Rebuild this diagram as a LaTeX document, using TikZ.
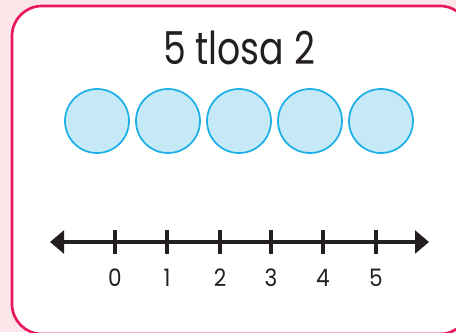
\documentclass[tikz,border=0pt]{standalone}
\usepackage{fontspec}
\setmainfont{Poppins}
\usepackage{xcolor}
\usetikzlibrary{arrows.meta, positioning}
\definecolor{pagePink}{HTML}{FDE6E9}
\definecolor{cardEdge}{HTML}{E8175D}
\definecolor{counterFill}{HTML}{C6E9F8}
\definecolor{counterEdge}{HTML}{1AAFE6}
\definecolor{inkDark}{HTML}{231F20}

\begin{document}
\begin{tikzpicture}[x=0.75pt, y=-0.75pt,
    counter/.style={circle, minimum size=48pt, inner sep=0pt, fill=counterFill, draw=counterEdge, line width=1.3pt},
    tickmark/.style={inkDark, line width=2.4pt},
    ticklabel/.style={font=\fontsize{18}{20}\selectfont, text=inkDark, inner sep=0pt, xscale=0.9}]
    \useasboundingbox (0,0) rectangle (456,332);
    \clip (0,0) rectangle (456,332);
    % background and card
    \fill[pagePink] (0,0) rectangle (456,332);
    \draw[cardEdge, fill=white, line width=2pt, rounded corners=22.5pt] (12,6) rectangle (470,334);
    % title
    \node[font=\fontsize{34}{40}\selectfont, text=inkDark, anchor=base, xscale=0.8] (title) at (239,64) {5 tlosa 2};
    % counters
    \foreach \i/\x in {1/97, 2/168, 3/239, 4/310, 5/381} {
        \node[counter] (c\i) at (\x,121) {};
    }
    % number line
    \coordinate (lineL) at (50,242);
    \coordinate (lineR) at (429,242);
    \draw[inkDark, line width=2.7pt, {Triangle[length=10.5pt, width=17pt]}-{Triangle[length=10.5pt, width=17pt]}] (lineL) -- (lineR);
    \foreach \n/\x in {0/115, 1/167, 2/220, 3/271, 4/323, 5/376} {
        \draw[tickmark] (\x,230) -- (\x,254);
        \node[ticklabel, anchor=base] (n\n) at (\x,286) {\n};
    }
\end{tikzpicture}
\end{document}
